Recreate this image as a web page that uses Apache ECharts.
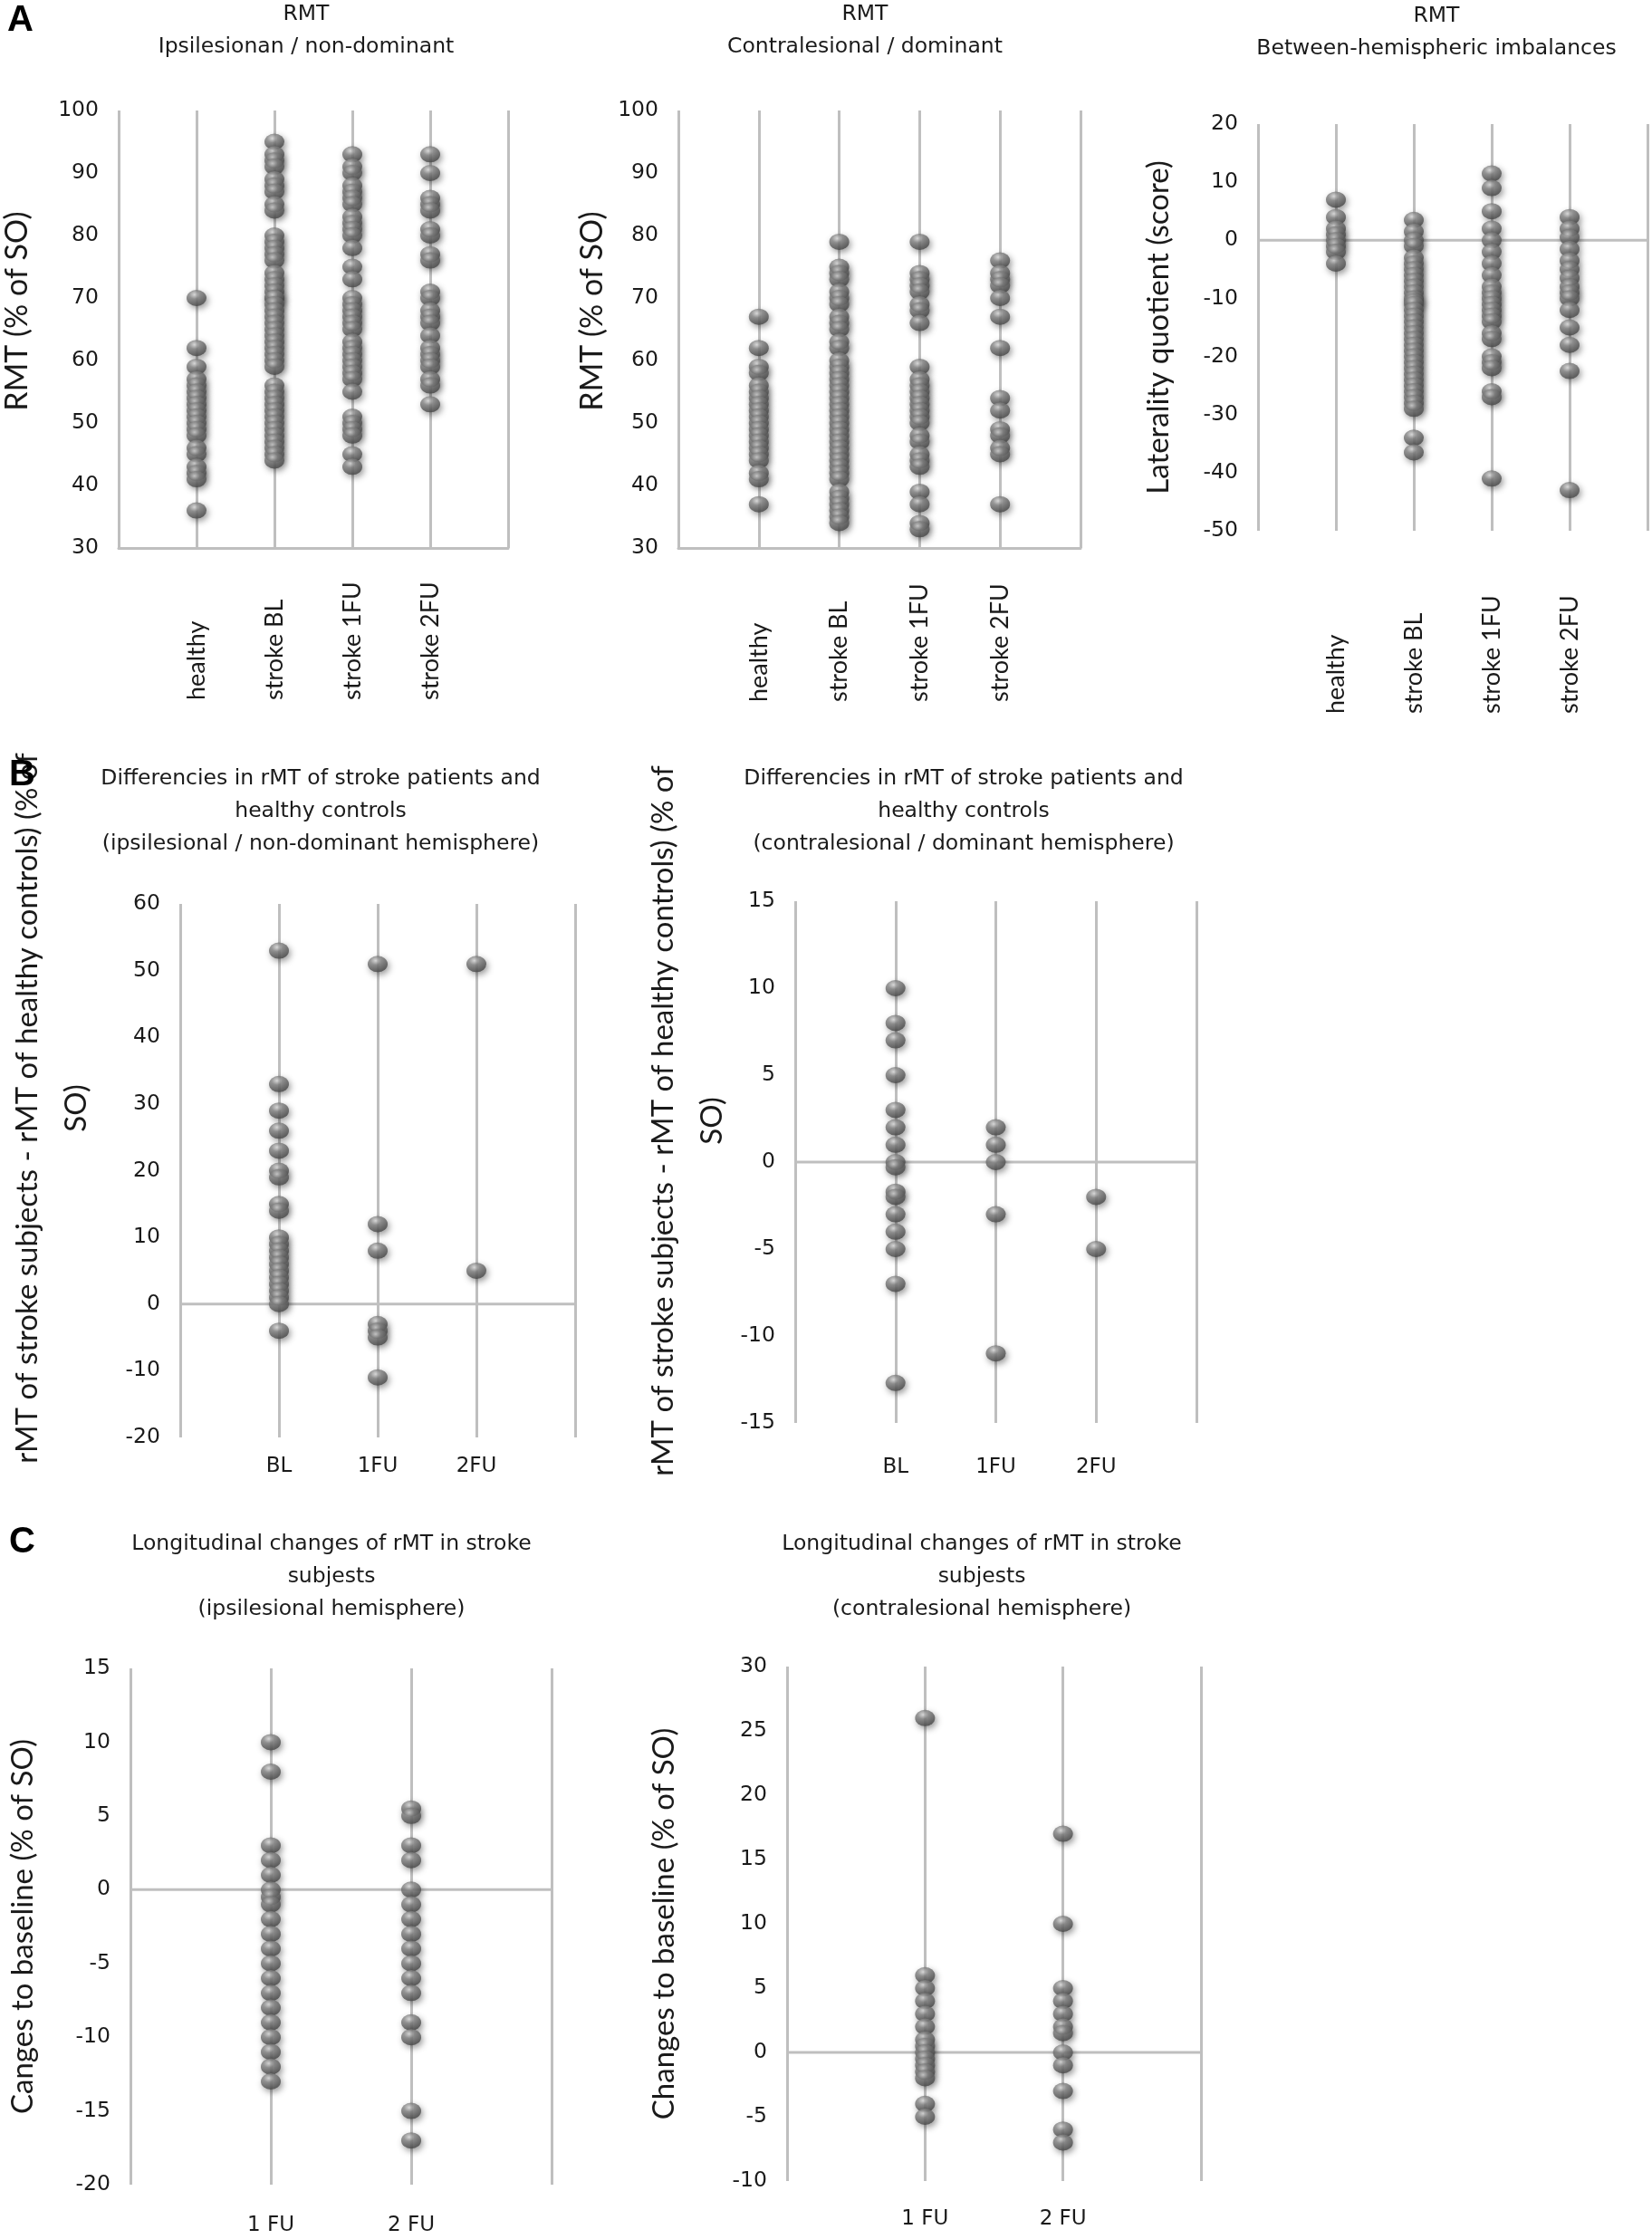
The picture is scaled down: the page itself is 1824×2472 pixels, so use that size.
<!DOCTYPE html>
<html>
<head>
<meta charset="utf-8">
<script src="https://cdn.jsdelivr.net/npm/echarts@6/dist/echarts.min.js"></script>
<style>
html,body{margin:0;padding:0;background:#fff;}
#chart{width:1824px;height:2472px;}
</style>
</head>
<body>
<div id="chart"></div>
<script>
// ---------- categories ----------
const catsA = ['', 'healthy', 'stroke BL', 'stroke 1FU', 'stroke 2FU', ''];
const catsB = ['', 'BL', '1FU', '2FU', ''];
const catsC = ['', '1 FU', '2 FU', ''];

// ---------- A1: RMT ipsilesional / non-dominant (% of SO) ----------
const a1Healthy = [70, 62, 59, 57, 56, 55, 54, 53, 52, 51, 50, 49, 48, 46, 45, 43, 42, 41, 36];
const a1BL = [95, 93, 92, 91, 89, 88, 87, 85, 84, 80, 79, 78, 77, 76, 74, 73, 72, 71, 70, 70, 69, 68, 67, 66, 65, 64, 63, 62, 61, 60, 59, 56, 55, 54, 53, 52, 51, 50, 49, 48, 47, 46, 45, 44];
const a1FU1 = [93, 91, 90, 88, 87, 86, 85, 83, 82, 81, 80, 78, 75, 73, 70, 69, 68, 67, 66, 65, 63, 62, 61, 60, 59, 58, 57, 55, 51, 50, 49, 48, 45, 43];
const a1FU2 = [93, 90, 86, 85, 84, 81, 80, 77, 76, 71, 70, 68, 67, 66, 64, 62, 61, 60, 59, 57, 56, 53];

// ---------- A2: RMT contralesional / dominant (% of SO) ----------
const a2Healthy = [67, 62, 59, 58, 56, 55, 54, 53, 52, 51, 50, 49, 48, 47, 46, 45, 44, 42, 41, 37];
const a2BL = [79, 75, 74, 73, 71, 70, 69, 67, 66, 65, 63, 62, 60, 59, 58, 57, 56, 55, 54, 53, 52, 51, 50, 49, 48, 47, 46, 45, 44, 43, 42, 41, 39, 38, 37, 36, 35, 34];
const a2FU1 = [79, 74, 73, 72, 71, 69, 68, 66, 59, 57, 56, 55, 54, 53, 52, 51, 50, 48, 47, 45, 44, 43, 39, 37, 34, 33];
const a2FU2 = [76, 74, 73, 72, 70, 67, 62, 54, 52, 49, 48, 46, 45, 37];

// ---------- A3: laterality quotient (score) ----------
const a3Healthy = [7, 4, 2, 1, 0, -1, -2, -4];
const a3BL = [3.5, 1.5, 0, -1, -3, -4, -5, -6, -7, -8, -9, -10, -10.5, -11, -12, -13, -14, -15, -16, -17, -18, -19, -20, -21, -22, -23, -24, -25, -26, -27, -28, -29, -34, -36.5];
const a3FU1 = [11.5, 9, 5, 2, 0, -2, -4, -6, -8, -9, -10, -11, -12, -13, -14, -16, -17, -20, -21, -22, -26, -27, -41];
const a3FU2 = [4, 2, 0.5, -1.5, -3.5, -5, -6.5, -8, -9, -10, -12, -15, -18, -22.5, -43];

// ---------- B1: differences ipsilesional ----------
const b1BL = [53, 33, 29, 26, 23, 20, 19, 15, 14, 10, 9, 8, 7, 6, 5, 4, 3, 2, 1, 0, -4];
const b1FU1 = [51, 12, 8, -3, -4, -5, -11];
const b1FU2 = [51, 5];

// ---------- B2: differences contralesional ----------
const b2BL = [10, 8, 7, 5, 3, 2, 1, 0, -0.3, -1.7, -2, -3, -4, -5, -7, -12.7];
const b2FU1 = [2, 1, 0, -3, -11];
const b2FU2 = [-2, -5];

// ---------- C1: longitudinal changes ipsilesional ----------
const c1FU1 = [10, 8, 3, 2, 1, 0, -0.5, -1, -2, -3, -4, -5, -6, -7, -8, -9, -10, -11, -12, -13];
const c1FU2 = [5.5, 5, 3, 2, 0, -1, -2, -3, -4, -5, -6, -7, -9, -10, -15, -17];

// ---------- C2: longitudinal changes contralesional ----------
const c2FU1 = [26, 6, 5, 4, 3, 2, 1, 0.5, 0, -0.5, -1, -1.5, -2, -4, -5];
const c2FU2 = [17, 10, 5, 4, 3, 2, 1.5, 0, -1, -3, -6, -7];

// ---------- styling helpers ----------
const GRID = '#BFBFBF';
const TXT = '#1a1a1a';
const TICKFONT = 'DejaVu Sans';
const NAMEFONT = 'Lato';

function pts(cat, vals) { return vals.map(v => [cat, v]); }

const sphere = {
  color: {
    type: 'radial', x: 0.4, y: 0.3, r: 0.75,
    colorStops: [
      {offset: 0, color: '#dcdcdc'},
      {offset: 0.35, color: '#858585'},
      {offset: 0.8, color: '#555555'},
      {offset: 1, color: '#404040'}
    ]
  },
  shadowColor: 'rgba(0,0,0,0.5)',
  shadowBlur: 7,
  shadowOffsetX: 2,
  shadowOffsetY: 3
};

function scatter(gi, data) {
  return {
    type: 'scatter', xAxisIndex: gi, yAxisIndex: gi,
    data: data, symbol: 'circle', symbolSize: [22, 18],
    itemStyle: sphere, z: 3, silent: true
  };
}
function zeroLine(gi, n) {
  return {
    type: 'line', xAxisIndex: gi, yAxisIndex: gi,
    data: [[0, 0], [n - 1, 0]], symbol: 'none', silent: true, z: 1,
    lineStyle: {color: GRID, width: 3}
  };
}

function xCat(gi, cats, showLine, label) {
  return {
    type: 'category', gridIndex: gi, data: cats, boundaryGap: false,
    axisTick: {show: false},
    axisLine: {show: showLine, onZero: false, lineStyle: {color: GRID, width: 3}},
    splitLine: {show: true, interval: 0, lineStyle: {color: GRID, width: 3}},
    axisLabel: Object.assign({interval: 0, color: TXT}, label)
  };
}
function yVal(gi, min, max, interval, name, nameGap, extra) {
  return {
    type: 'value', gridIndex: gi, min: min, max: max, interval: interval,
    axisLine: {show: false}, axisTick: {show: false}, splitLine: {show: false},
    axisLabel: {margin: 22, fontFamily: TICKFONT, fontSize: 23.5, color: TXT},
    name: name, nameLocation: 'middle', nameRotate: 90, nameGap: nameGap,
    nameTextStyle: Object.assign({fontFamily: NAMEFONT, fontSize: 33, color: TXT}, extra || {})
  };
}

const rotLabel = m => ({rotate: 90, align: 'left', verticalAlign: 'middle', margin: m, fontFamily: NAMEFONT, fontSize: 27});
const flatLabel = m => ({margin: m, fontFamily: TICKFONT, fontSize: 23});

const titleStyle = {fontFamily: 'DejaVu Sans', fontSize: 23.5, fontWeight: 'normal', color: TXT, lineHeight: 36};
const letterStyle = {fontFamily: 'Liberation Sans', fontSize: 40, fontWeight: 'bold', color: '#000'};
function ttl(text, cx, top) {
  return {text: text, left: cx, top: top, textAlign: 'center', textStyle: titleStyle, padding: 0};
}
function letter(text, x, top) {
  return {text: text, left: x, top: top, textStyle: letterStyle, padding: 0};
}

const bName = 'rMT of stroke subjects - rMT of healthy controls) (% of\nSO)';

const option = {
  animation: false,
  backgroundColor: '#fff',
  title: [
    letter('A', 8, 3),
    letter('B', 10, 836),
    letter('C', 10, 1683),
    ttl('RMT\nIpsilesionan / non-dominant', 338, -2),
    ttl('RMT\nContralesional / dominant', 955, -2),
    ttl('RMT\nBetween-hemispheric imbalances', 1586, 0),
    ttl('Differencies in rMT of stroke patients and\nhealthy controls\n(ipsilesional / non-dominant hemisphere)', 354, 842),
    ttl('Differencies in rMT of stroke patients and\nhealthy controls\n(contralesional / dominant hemisphere)', 1064, 842),
    ttl('Longitudinal changes of rMT in stroke\nsubjests\n(ipsilesional hemisphere)', 366, 1687),
    ttl('Longitudinal changes of rMT in stroke\nsubjests\n(contralesional hemisphere)', 1084, 1687)
  ],
  grid: [
    {left: 131, top: 122, width: 430, height: 483},
    {left: 749, top: 122, width: 444, height: 483},
    {left: 1389, top: 137, width: 430, height: 449},
    {left: 199, top: 998, width: 436, height: 589},
    {left: 878, top: 995, width: 443, height: 576},
    {left: 144, top: 1842, width: 465, height: 570},
    {left: 869, top: 1840, width: 457, height: 568}
  ],
  xAxis: [
    xCat(0, catsA, true, rotLabel(168)),
    xCat(1, catsA, true, rotLabel(170)),
    xCat(2, catsA, false, rotLabel(202)),
    xCat(3, catsB, false, flatLabel(21)),
    xCat(4, catsB, false, flatLabel(38)),
    xCat(5, catsC, false, flatLabel(34)),
    xCat(6, catsC, false, flatLabel(31))
  ],
  yAxis: [
    yVal(0, 30, 100, 10, 'RMT (% of SO)', 95, {fontSize: 34, padding: [0, 0, 0, 40]}),
    yVal(1, 30, 100, 10, 'RMT (% of SO)', 78, {fontSize: 34, padding: [0, 0, 0, 40]}),
    yVal(2, -50, 20, 10, 'Laterality quotient (score)', 93),
    yVal(3, -20, 60, 10, bName, 88, {lineHeight: 54, padding: [0, 0, 0, 138]}),
    yVal(4, -15, 15, 5, bName, 61, {lineHeight: 54, padding: [0, 0, 0, 91]}),
    yVal(5, -20, 15, 5, 'Canges to baseline (% of SO)', 102),
    yVal(6, -10, 30, 5, 'Changes to baseline (% of SO)', 119)
  ],
  series: [
    scatter(0, [].concat(pts('healthy', a1Healthy), pts('stroke BL', a1BL), pts('stroke 1FU', a1FU1), pts('stroke 2FU', a1FU2))),
    scatter(1, [].concat(pts('healthy', a2Healthy), pts('stroke BL', a2BL), pts('stroke 1FU', a2FU1), pts('stroke 2FU', a2FU2))),
    zeroLine(2, catsA.length),
    scatter(2, [].concat(pts('healthy', a3Healthy), pts('stroke BL', a3BL), pts('stroke 1FU', a3FU1), pts('stroke 2FU', a3FU2))),
    zeroLine(3, catsB.length),
    scatter(3, [].concat(pts('BL', b1BL), pts('1FU', b1FU1), pts('2FU', b1FU2))),
    zeroLine(4, catsB.length),
    scatter(4, [].concat(pts('BL', b2BL), pts('1FU', b2FU1), pts('2FU', b2FU2))),
    zeroLine(5, catsC.length),
    scatter(5, [].concat(pts('1 FU', c1FU1), pts('2 FU', c1FU2))),
    zeroLine(6, catsC.length),
    scatter(6, [].concat(pts('1 FU', c2FU1), pts('2 FU', c2FU2)))
  ]
};

const chart = echarts.init(document.getElementById('chart'), null, {renderer: 'canvas', width: 1824, height: 2472});
chart.setOption(option);
</script>
</body>
</html>
